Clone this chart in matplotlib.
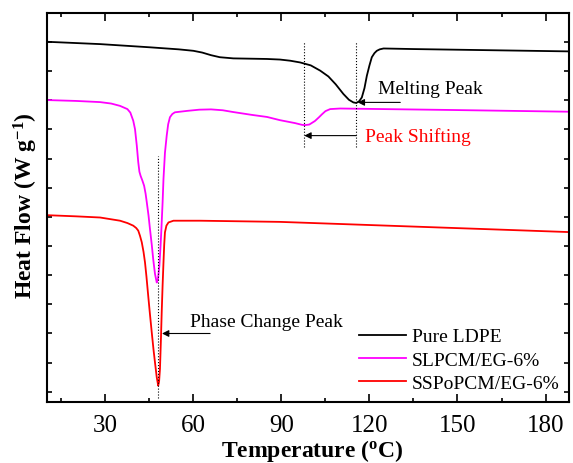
import matplotlib
matplotlib.use("Agg")
import matplotlib.pyplot as plt
from matplotlib.ticker import MultipleLocator

plt.rcParams['font.family'] = ['Liberation Serif', 'DejaVu Serif']
plt.rcParams['mathtext.default'] = 'regular'

# DSC heating curves (temperature in C, heat flow in arbitrary offset units)
ldpe_t = [10, 28.2, 45.2, 55, 60, 63, 66, 69, 73.6, 85, 89.5, 93, 96.4, 100,
          103.2, 106, 108.5, 111.1, 113, 114.5, 115.5, 116.5, 117.4, 118.3,
          119.1, 120, 120.8, 121.7, 122.5, 123.5, 124.8, 135, 188]
ldpe_hf = [12.01, 11.93, 11.82, 11.75, 11.70, 11.64, 11.55, 11.48, 11.44,
           11.42, 11.40, 11.36, 11.30, 11.20, 11.02, 10.82, 10.55, 10.22,
           10.02, 9.93, 9.91, 9.97, 10.10, 10.42, 10.84, 11.20, 11.48, 11.62,
           11.70, 11.75, 11.78, 11.76, 11.68]

slpcm_t = [10, 20, 28.2, 32, 35, 37.5, 38.5, 39.5, 40.1, 40.7, 41.2, 41.6,
           42.0, 42.6, 43.2, 43.7, 44.1, 44.7, 45.2, 45.8, 46.3, 46.9, 47.5,
           47.9, 48.4, 48.8, 49.1, 49.5, 49.8, 50.3, 50.9, 51.4, 52.0, 52.8,
           53.7, 58, 62, 66, 70, 73.5, 80, 85.1, 89.5, 94.6, 97, 98.0, 99.5,
           101.4, 102.8, 103.8, 105, 106.6, 110, 147.5, 188]
slpcm_hf = [10.01, 9.98, 9.94, 9.89, 9.81, 9.70, 9.58, 9.30, 9.01, 8.45, 7.88,
            7.55, 7.41, 7.25, 7.07, 6.80, 6.51, 6.05, 5.58, 5.05, 4.55, 4.05,
            3.75, 3.85, 4.32, 5.00, 5.60, 6.50, 7.30, 8.20, 8.79, 9.18, 9.42,
            9.53, 9.59, 9.64, 9.68, 9.69, 9.66, 9.60, 9.50, 9.43, 9.32, 9.22,
            9.16, 9.15, 9.17, 9.29, 9.42, 9.52, 9.63, 9.70, 9.72, 9.67, 9.61]

sspo_t = [10, 20, 28.2, 35, 37.5, 39.5, 40.5, 41.2, 41.8, 42.4, 43.0, 43.5,
          44.0, 44.6, 45.2, 45.8, 46.4, 46.9, 47.5, 48.0, 48.3, 48.6, 48.9,
          49.2, 49.5, 49.8, 50.05, 50.3, 50.8, 51.5, 53.2, 62.3, 89.5, 160.1,
          188]
sspo_hf = [6.06, 6.02, 5.98, 5.87, 5.79, 5.70, 5.62, 5.53, 5.35, 5.13, 4.80,
           4.44, 3.95, 3.29, 2.65, 2.04, 1.45, 1.01, 0.50, 0.21, 0.35, 0.78,
           1.70, 2.74, 3.65, 4.44, 5.05, 5.47, 5.70, 5.81, 5.87, 5.87, 5.83,
           5.58, 5.48]

labels = ['Pure LDPE', 'SLPCM/EG-6%', 'SSPoPCM/EG-6%']
colors = ['black', '#ff00ff', 'red']

# marker temperatures
melt_peak = 115.5
shifted_peak = 97.8
phase_peak = 48.0

fig = plt.figure(figsize=(5.73, 4.64), dpi=100)
ax = fig.add_axes([0.0815, 0.1315, 0.9115, 0.8385])

for t, hf, lab, c in zip([ldpe_t, slpcm_t, sspo_t],
                         [ldpe_hf, slpcm_hf, sspo_hf], labels, colors):
    ax.plot(t, hf, color=c, lw=1.3, label=lab)

# dotted guides
ax.plot([shifted_peak, shifted_peak], [8.39, 12.04], ls=':', color='black', lw=0.8)
ax.plot([melt_peak, melt_peak], [8.39, 12.04], ls=':', color='black', lw=0.8)
ax.plot([phase_peak, phase_peak], [-0.2, 8.1], ls=':', color='black', lw=0.8)

arrow = dict(arrowstyle='-|>', color='black', lw=0.8, mutation_scale=10,
             shrinkA=0, shrinkB=0)
ax.annotate('', xy=(shifted_peak, 8.79), xytext=(melt_peak, 8.79), arrowprops=arrow)
ax.text(118.5, 8.79, 'Peak Shifting', color='red', fontsize=14, va='center')

ax.annotate('', xy=(116.0, 9.93), xytext=(130.5, 9.93), arrowprops=arrow)
ax.text(123.0, 10.41, 'Melting Peak', fontsize=14, va='center')

ax.annotate('', xy=(49.3, 2.0), xytext=(65.7, 2.0), arrowprops=arrow)
ax.text(58.9, 2.40, 'Phase Change Peak', fontsize=14, va='center')

ax.set_xlim(10, 188)
ax.set_ylim(-0.35, 13.0)
ax.xaxis.set_major_locator(MultipleLocator(30))
ax.xaxis.set_minor_locator(MultipleLocator(15))
ax.yaxis.set_major_locator(MultipleLocator(1))
ax.set_yticklabels([])
ax.tick_params(axis='both', which='both', direction='in', top=True, right=True,
               width=1.2)
ax.tick_params(axis='x', which='major', length=6, labelsize=18, pad=9)
ax.tick_params(axis='x', which='minor', length=3)
ax.tick_params(axis='y', which='major', length=3.5)
for s in ax.spines.values():
    s.set_linewidth(1.5)

ax.set_xlabel('Temperature ($^o$C)', fontsize=17, fontweight='bold')
ax.set_ylabel('Heat Flow (W g$^{-1}$)', fontsize=17, fontweight='bold')
ax.xaxis.set_label_coords(0.508, -0.089)
ax.yaxis.set_label_coords(-0.012, 0.506)

ax.legend(loc='lower right', frameon=False, fontsize=14, handlelength=2.4,
          handletextpad=0.3, labelspacing=0.3, borderaxespad=0.1)

fig.savefig('out.png', dpi=100)
